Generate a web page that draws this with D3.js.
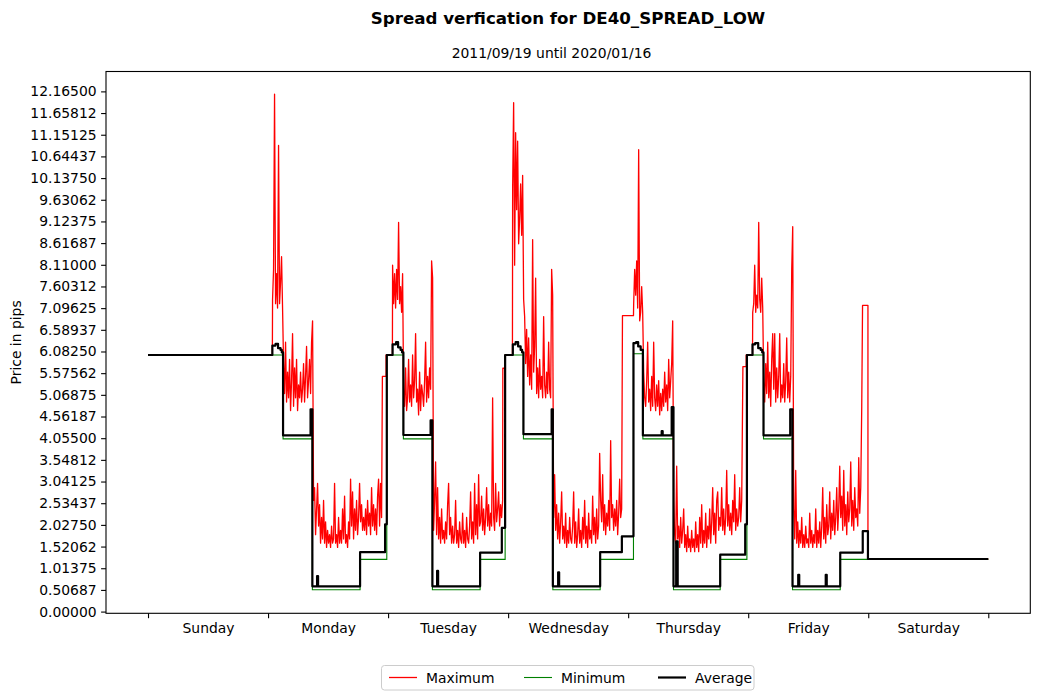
<!DOCTYPE html>
<html>
<head>
<meta charset="utf-8">
<script src="https://cdn.jsdelivr.net/npm/d3@7"></script>
<style>
  html, body { margin: 0; padding: 0; background: #fff; }
  svg { display: block; font-family: "DejaVu Sans", sans-serif; }
</style>
</head>
<body>
<svg id="chart" width="1039" height="700"></svg>
<script>
// ---------------- data ----------------
const dayLabels = ["Sunday", "Monday", "Tuesday", "Wednesday", "Thursday", "Friday", "Saturday"];
const dayTicks = [0, 24, 48, 72, 96, 120, 144, 168];
const dayLabelPos = [12, 36, 60, 84, 108, 132, 156];

const yTickValues = [0, 0.506875, 1.01375, 1.520625, 2.0275, 2.534375, 3.04125, 3.548125, 4.055,
  4.561875, 5.06875, 5.575625, 6.0825, 6.589375, 7.09625, 7.603125, 8.11, 8.616875, 9.12375,
  9.630625, 10.1375, 10.644375, 11.15125, 11.658125, 12.165];
const yTickLabels = ["0.00000", "0.50687", "1.01375", "1.52062", "2.02750", "2.53437", "3.04125",
  "3.54812", "4.05500", "4.56187", "5.06875", "5.57562", "6.08250", "6.58937", "7.09625", "7.60312",
  "8.11000", "8.61687", "9.12375", "9.63062", "10.13750", "10.64437", "11.15125", "11.65812", "12.16500"];

// Maximum spread: noisy part of each trading day, sampled every 0.2 h from the start hour
const maxStart = [24.9, 48.9, 72.9, 97.1, 120.9];
const maxMon = [7.3, 8.0, 12.1, 7.2, 7.9, 7.1, 10.9, 7.2, 7.7, 8.3, 7.1,
  5.8, 5.1, 6.3, 4.9, 5.6, 5.0, 5.9, 4.7, 5.4, 6.5,
  4.8, 5.7, 5.0, 5.9, 4.7, 5.3, 5.0, 5.6, 4.9, 5.2,
  5.8, 4.9, 5.5, 6.2, 5.0, 5.4, 5.9, 5.1, 6.3, 6.8,
  2.6, 2.9, 1.8, 2.4, 3.0, 2.0, 2.5, 1.6, 2.2, 1.7,
  2.6, 1.6, 2.1, 1.5, 1.9, 1.6, 1.8, 1.5, 2.0, 1.6,
  1.7, 3.0, 1.6, 1.8, 1.5, 2.2, 1.6, 1.9, 1.6, 2.4,
  1.7, 2.7, 1.6, 1.8, 1.5, 2.1, 1.7, 3.1, 2.0, 2.8,
  1.7, 2.4, 1.9, 2.6, 1.8, 2.2, 3.0, 2.1, 2.5, 1.9,
  2.2, 1.9, 2.4, 1.8, 2.6, 2.0, 2.3, 1.8, 2.9, 2.0,
  2.5, 1.9, 2.4, 1.8, 2.7, 3.1, 2.0, 3.0, 2.2];
const maxTue = [8.1, 7.2, 7.9, 7.1, 8.0, 7.3, 9.1, 7.2, 7.6, 7.0, 7.9,
  5.2, 4.8, 5.7, 4.7, 5.0, 5.9, 4.9, 5.3, 4.8, 6.0,
  5.0, 5.4, 6.5, 4.9, 5.2, 4.6, 5.6, 4.7, 5.3, 5.1,
  4.8, 5.4, 6.3, 4.9, 5.5, 5.0, 5.7, 5.2, 8.2, 7.8,
  1.9, 2.6, 3.5, 1.8, 2.9, 1.7, 2.2, 1.6, 2.4, 1.7,
  1.9, 1.6, 2.1, 1.7, 2.5, 3.0, 1.8, 2.2, 1.6, 2.0,
  1.6, 1.8, 2.6, 1.6, 1.9, 1.5, 2.1, 1.7, 1.6, 2.3,
  1.6, 1.9, 1.5, 2.2, 1.7, 1.6, 2.0, 2.8, 1.7, 2.1,
  1.6, 3.0, 1.8, 2.5, 1.7, 3.2, 2.0,
  2.1, 2.7, 1.9, 2.4, 1.8, 2.2, 2.9, 2.0, 2.5, 1.9,
  2.3, 2.0, 5.0, 2.2, 1.9, 3.0, 2.1, 2.4, 2.8, 2.0, 2.5, 2.2, 2.6];
const maxWed = [9.9, 11.9, 8.1, 11.2, 9.4, 11.0, 8.6, 9.2, 10.0, 8.8, 10.2, 7.3,
  6.9, 5.8, 6.6, 5.5, 6.4, 5.3, 6.0, 5.2, 8.7, 5.6,
  6.2, 7.8, 5.1, 5.7, 5.0, 5.9, 5.2, 5.5, 5.0, 6.9,
  5.3, 5.0, 5.6, 5.1, 6.3, 5.2, 5.0, 8.0, 7.4,
  2.2, 3.2, 1.9, 2.5, 1.7, 2.3, 1.6, 2.1, 2.8, 1.7,
  2.0, 1.6, 2.3, 1.5, 1.9, 1.6, 2.2, 1.7, 1.6, 2.0,
  2.8, 1.6, 2.1, 1.5, 1.8, 2.4, 1.6, 1.9, 1.5, 2.2,
  1.7, 2.6, 1.6, 2.0, 1.5, 2.3, 1.7, 1.9, 1.6, 2.7,
  1.8, 2.2, 1.6, 2.4, 1.7, 2.0, 3.7,
  2.6, 2.1, 3.2, 1.9, 2.5, 1.8, 2.3, 2.0, 2.6, 1.9,
  4.0, 2.2, 2.5, 1.9, 2.4, 2.0, 2.6, 1.8, 2.3, 3.1, 2.2, 2.4];
const maxThu = [7.2, 8.0, 7.4, 8.2, 7.1, 10.8, 6.8, 7.0, 7.6, 7.0,
  5.6, 5.0, 4.8, 5.4, 6.3, 4.9, 5.2, 4.7, 5.5, 4.8,
  6.3, 5.0, 4.7, 5.3, 4.8, 5.4, 4.6, 5.1, 4.7, 5.2,
  4.8, 5.6, 4.9, 5.3, 4.7, 5.9, 5.0, 5.4, 5.8, 6.8,
  2.6, 1.8, 1.6, 3.4, 1.7, 2.0, 1.5, 2.2, 1.6, 1.9,
  2.4, 1.5, 1.8, 1.4, 2.0, 1.5, 1.7, 1.4, 1.9, 1.5,
  1.7, 1.4, 2.1, 1.5, 1.8, 1.4, 2.2, 1.6, 2.5, 1.5,
  1.9, 1.6, 2.3, 1.5, 2.0, 1.7, 2.4, 1.6, 2.1, 2.9,
  1.8, 2.3, 1.6, 2.6, 2.8, 1.9, 2.2,
  2.0, 2.9, 1.9, 2.4, 1.8, 2.2, 3.3, 2.0, 2.5, 1.9,
  2.3, 1.8, 2.6, 2.1, 3.2, 1.9, 2.4, 2.0, 2.2, 2.9, 2.1, 2.6];
const maxFri = [7.0, 7.2, 8.1, 7.0, 7.4, 7.1, 9.1, 7.3, 7.0, 7.8, 7.1,
  5.4, 4.9, 5.8, 5.1, 6.3, 5.0, 5.6, 4.8, 5.9, 6.5,
  5.2, 6.5, 4.9, 5.7, 5.0, 5.5, 6.5, 4.9, 5.3, 5.0,
  5.8, 4.9, 5.4, 6.4, 5.0, 5.6, 4.9, 5.5, 8.0, 9.0,
  2.4, 1.7, 3.3, 1.6, 2.1, 1.5, 1.9, 1.6, 2.2, 1.5,
  1.8, 1.5, 2.0, 1.6, 1.7, 1.5, 2.3, 1.6, 1.9, 1.5,
  1.8, 1.6, 2.4, 1.5, 1.9, 1.6, 2.1, 1.5, 2.0, 2.9,
  1.7, 2.2, 1.6, 2.5, 1.8, 2.0, 2.8, 1.7, 2.3, 1.9,
  2.6, 1.8, 2.2, 2.9, 1.9, 2.4, 3.4,
  2.2, 2.7, 1.9, 3.3, 2.0, 2.5, 1.8, 2.8, 2.1, 2.4,
  3.5, 2.0, 2.6, 1.9, 2.9, 2.2, 2.4, 2.0, 3.6, 2.3, 2.9, 4.8];
// level before the open, [step start hour, step level, step end hour], level after the step
const maxBeforeOpen = [6.0, 6.0, 6.0, 6.92, 6.0];
const maxCloseStep = [[46.86, 5.5, 47.6], [70.94, 5.69, 71.4], [94.86, 6.92, 97.06], [118.94, 5.73, 119.6], [142.86, 7.16, 143.94]];
const maxAfterClose = [6.0, 6.0, null, 6.0, 1.23];
const maxWeekendLevel = 6.0;

// Minimum spread: [hour, level] step changes
const minSteps = [[0, 6.0], [27.0, 4.04], [32.86, 0.51], [42.4, 1.22], [47.74, 6.0],
  [51.06, 4.04], [56.86, 0.51], [66.4, 1.22], [71.4, 6.0],
  [75.06, 4.04], [80.94, 0.51], [90.4, 1.22], [97.06, 6.03],
  [98.94, 4.04], [105.06, 0.51], [114.4, 1.22], [119.74, 6.0],
  [123.06, 4.04], [128.86, 0.51], [138.4, 1.22], [168, 1.22]];

// Average spread: [hour, level] step changes
const avgSteps = [[0, 6.0],
  [24.86, 6.22], [25.5, 6.26], [26.0, 6.16], [26.5, 6.12], [26.75, 6.06], [27.0, 4.12], [32.5, 4.73], [32.86, 0.59], [33.8, 0.83], [34.0, 0.59], [42.4, 1.39], [47.4, 2.04], [47.74, 6.0],
  [48.9, 6.25], [49.6, 6.3], [50.0, 6.18], [50.5, 6.12], [50.8, 6.06], [51.06, 4.13], [56.5, 4.47], [56.86, 0.59], [57.8, 0.95], [58.0, 0.59], [66.4, 1.38], [70.74, 1.96], [71.4, 6.0],
  [72.94, 6.25], [73.5, 6.3], [74.0, 6.2], [74.5, 6.12], [74.8, 6.06], [75.06, 4.15], [80.7, 4.73], [80.94, 0.59], [82.0, 0.92], [82.2, 0.59], [90.4, 1.39], [94.74, 1.76],
  [97.06, 6.28], [97.6, 6.3], [98.0, 6.2], [98.5, 6.12], [98.94, 4.12], [102.7, 4.22], [102.9, 4.12], [104.7, 4.78], [105.06, 0.59], [105.6, 1.64], [105.9, 0.59], [114.4, 1.33], [119.4, 2.04], [119.74, 6.0],
  [120.86, 6.25], [121.4, 6.28], [122.0, 6.16], [122.5, 6.12], [122.8, 6.06], [123.06, 4.12], [128.4, 4.73], [128.86, 0.59], [130.0, 0.86], [130.2, 0.59], [135.5, 0.86], [135.7, 0.59], [138.4, 1.38], [142.9, 1.88], [143.94, 1.23], [168, 1.23]];

const seriesNames = ["Maximum", "Minimum", "Average"];
const seriesColors = ["#ff0000", "#008000", "#000000"];
const seriesWidths = [1.3, 1.1, 2.2];

// ---------------- build the maximum series ----------------
const maxNoise = [maxMon, maxTue, maxWed, maxThu, maxFri];
const maxPts = [[0, maxWeekendLevel]];
maxNoise.forEach((vals, d) => {
  const s = maxStart[d];
  maxPts.push([s - 0.04, maxBeforeOpen[d]]);
  vals.forEach((v, i) => maxPts.push([s + i * 0.2, v]));
  const st = maxCloseStep[d];
  maxPts.push([st[0], st[1]]);
  maxPts.push([st[2], st[1]]);
  if (maxAfterClose[d] !== null) maxPts.push([st[2], maxAfterClose[d]]);
});
maxPts.push([168, 1.23]);

// ---------------- chart ----------------
const svg = d3.select("#chart");
const L = 106, R = 1030.3, T = 71.5, B = 613.3;

const x = d3.scaleLinear().domain([-8.4, 176.4]).range([L, R]);
const y = d3.scaleLinear().domain([-0.04, 12.63]).range([B, T]);

const lineLin = d3.line().x(d => x(d[0])).y(d => y(d[1])).curve(d3.curveLinear);
const lineStep = d3.line().x(d => x(d[0])).y(d => y(d[1])).curve(d3.curveStepAfter);

const g = svg.append("g");
g.append("path").datum(maxPts).attr("d", lineLin)
  .attr("fill", "none").attr("stroke", seriesColors[0]).attr("stroke-width", seriesWidths[0])
  .attr("stroke-linejoin", "round");
g.append("path").datum(minSteps).attr("d", lineStep)
  .attr("fill", "none").attr("stroke", seriesColors[1]).attr("stroke-width", seriesWidths[1]);
g.append("path").datum(avgSteps).attr("d", lineStep)
  .attr("fill", "none").attr("stroke", seriesColors[2]).attr("stroke-width", seriesWidths[2])
  .attr("stroke-linejoin", "round");

// frame
svg.append("rect").attr("x", L).attr("y", T).attr("width", R - L).attr("height", B - T)
  .attr("fill", "none").attr("stroke", "#000").attr("stroke-width", 1.1);

// y axis
const yAxis = d3.axisLeft(y).tickValues(yTickValues)
  .tickFormat((d, i) => yTickLabels[i]).tickSize(4.9).tickPadding(4.5);
const ya = svg.append("g").attr("transform", `translate(${L},0)`).call(yAxis);
ya.select(".domain").remove();
ya.selectAll("line").attr("stroke", "#000").attr("stroke-width", 1.1);
ya.selectAll("text").attr("font-size", "13.9px").attr("font-family", "DejaVu Sans").attr("fill", "#000");

// x axis (ticks at day boundaries, labels in the middle of days)
const xAxis = d3.axisBottom(x).tickValues(dayTicks).tickFormat("").tickSize(4.9);
const xa = svg.append("g").attr("transform", `translate(0,${B})`).call(xAxis);
xa.select(".domain").remove();
xa.selectAll("line").attr("stroke", "#000").attr("stroke-width", 1.1);

const xLab = d3.axisBottom(x).tickValues(dayLabelPos).tickFormat((d, i) => dayLabels[i]).tickSize(0).tickPadding(9.5);
const xl = svg.append("g").attr("transform", `translate(0,${B})`).call(xLab);
xl.select(".domain").remove();
xl.selectAll("text").attr("font-size", "13.9px").attr("font-family", "DejaVu Sans").attr("fill", "#000");

// y label
svg.append("text").attr("transform", `translate(21,${(T + B) / 2}) rotate(-90)`)
  .attr("text-anchor", "middle").attr("font-size", "13.9px").attr("fill", "#000")
  .text("Price in pips");

// titles
svg.append("text").attr("x", 568).attr("y", 24).attr("text-anchor", "middle")
  .attr("font-size", "16.67px").attr("font-weight", "bold").attr("fill", "#000")
  .text("Spread verfication for DE40_SPREAD_LOW");
svg.append("text").attr("x", 551.5).attr("y", 58).attr("text-anchor", "middle")
  .attr("font-size", "13.9px").attr("fill", "#000")
  .text("2011/09/19 until 2020/01/16");

// legend
const lg = svg.append("g");
lg.append("rect").attr("x", 381.5).attr("y", 665.5).attr("width", 372.5).attr("height", 24.5)
  .attr("rx", 3).attr("fill", "#fff").attr("stroke", "#cccccc").attr("stroke-width", 1);
const legX = [389, 524, 658];
seriesNames.forEach((n, i) => {
  lg.append("line").attr("x1", legX[i]).attr("x2", legX[i] + 28).attr("y1", 677.5).attr("y2", 677.5)
    .attr("stroke", seriesColors[i]).attr("stroke-width", seriesWidths[i]);
  lg.append("text").attr("x", legX[i] + 37).attr("y", 682.5).attr("font-size", "13.9px")
    .attr("fill", "#000").text(n);
});
</script>
</body>
</html>
